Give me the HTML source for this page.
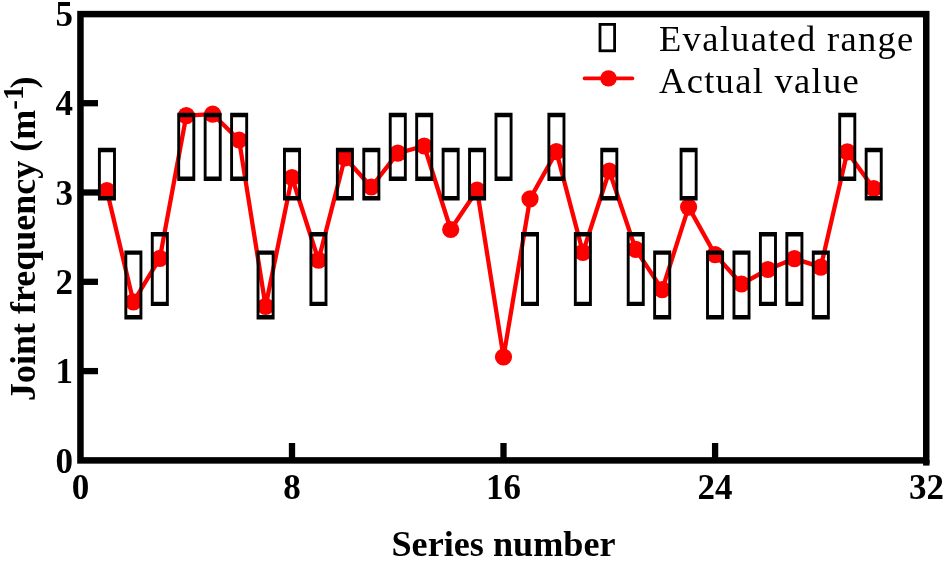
<!DOCTYPE html>
<html><head><meta charset="utf-8"><style>
html,body{margin:0;padding:0;background:#fff;}
svg{display:block;filter:blur(0.5px);}
text{font-family:"Liberation Serif",serif;}
</style></head><body>
<svg width="944" height="561" viewBox="0 0 944 561">
<rect width="944" height="561" fill="#fff"/>
<polyline points="106.9,190.7 133.4,301.8 159.8,258.4 186.3,115.7 212.7,114.2 239.1,140.0 265.6,306.3 292.0,177.5 318.5,260.2 344.9,157.8 371.3,187.0 397.8,153.1 424.2,146.0 450.7,229.5 477.1,190.2 503.5,357.0 530.0,198.9 556.4,151.7 582.9,252.4 609.3,171.0 635.7,249.4 662.2,289.6 688.6,207.1 715.1,254.6 741.5,284.0 767.9,269.5 794.4,258.6 820.8,267.1 847.3,151.9 873.7,188.5" fill="none" stroke="#f00" stroke-width="4.3" stroke-linejoin="round"/>
<g fill="#f00">
<circle cx="106.9" cy="190.7" r="8.6"/>
<circle cx="133.4" cy="301.8" r="8.6"/>
<circle cx="159.8" cy="258.4" r="8.6"/>
<circle cx="186.3" cy="115.7" r="8.6"/>
<circle cx="212.7" cy="114.2" r="8.6"/>
<circle cx="239.1" cy="140.0" r="8.6"/>
<circle cx="265.6" cy="306.3" r="8.6"/>
<circle cx="292.0" cy="177.5" r="8.6"/>
<circle cx="318.5" cy="260.2" r="8.6"/>
<circle cx="344.9" cy="157.8" r="8.6"/>
<circle cx="371.3" cy="187.0" r="8.6"/>
<circle cx="397.8" cy="153.1" r="8.6"/>
<circle cx="424.2" cy="146.0" r="8.6"/>
<circle cx="450.7" cy="229.5" r="8.6"/>
<circle cx="477.1" cy="190.2" r="8.6"/>
<circle cx="503.5" cy="357.0" r="8.6"/>
<circle cx="530.0" cy="198.9" r="8.6"/>
<circle cx="556.4" cy="151.7" r="8.6"/>
<circle cx="582.9" cy="252.4" r="8.6"/>
<circle cx="609.3" cy="171.0" r="8.6"/>
<circle cx="635.7" cy="249.4" r="8.6"/>
<circle cx="662.2" cy="289.6" r="8.6"/>
<circle cx="688.6" cy="207.1" r="8.6"/>
<circle cx="715.1" cy="254.6" r="8.6"/>
<circle cx="741.5" cy="284.0" r="8.6"/>
<circle cx="767.9" cy="269.5" r="8.6"/>
<circle cx="794.4" cy="258.6" r="8.6"/>
<circle cx="820.8" cy="267.1" r="8.6"/>
<circle cx="847.3" cy="151.9" r="8.6"/>
<circle cx="873.7" cy="188.5" r="8.6"/>
</g>
<g fill="#000" fill-rule="evenodd">
<path d="M97.94 147.80H115.94V200.40H97.94Z M100.84 152.20V196.00H113.04V152.20Z"/>
<path d="M124.38 250.40H142.38V319.40H124.38Z M127.28 254.80V315.00H139.48V254.80Z"/>
<path d="M150.82 232.00H168.82V306.10H150.82Z M153.72 236.40V301.70H165.92V236.40Z"/>
<path d="M177.26 112.80H195.26V181.00H177.26Z M180.16 117.20V176.60H192.36V117.20Z"/>
<path d="M203.70 112.80H221.70V181.00H203.70Z M206.60 117.20V176.60H218.80V117.20Z"/>
<path d="M230.14 112.80H248.14V181.00H230.14Z M233.04 117.20V176.60H245.24V117.20Z"/>
<path d="M256.58 250.40H274.58V319.40H256.58Z M259.48 254.80V315.00H271.68V254.80Z"/>
<path d="M283.02 147.80H301.02V200.40H283.02Z M285.92 152.20V196.00H298.12V152.20Z"/>
<path d="M309.46 232.00H327.46V306.10H309.46Z M312.36 236.40V301.70H324.56V236.40Z"/>
<path d="M335.90 147.80H353.90V200.40H335.90Z M338.80 152.20V196.00H351.00V152.20Z"/>
<path d="M362.34 147.80H380.34V200.40H362.34Z M365.24 152.20V196.00H377.44V152.20Z"/>
<path d="M388.78 112.80H406.78V181.00H388.78Z M391.68 117.20V176.60H403.88V117.20Z"/>
<path d="M415.22 112.80H433.22V181.00H415.22Z M418.12 117.20V176.60H430.32V117.20Z"/>
<path d="M441.66 147.80H459.66V200.40H441.66Z M444.56 152.20V196.00H456.76V152.20Z"/>
<path d="M468.10 147.80H486.10V200.40H468.10Z M471.00 152.20V196.00H483.20V152.20Z"/>
<path d="M494.54 112.80H512.54V181.00H494.54Z M497.44 117.20V176.60H509.64V117.20Z"/>
<path d="M520.98 232.00H538.98V306.10H520.98Z M523.88 236.40V301.70H536.08V236.40Z"/>
<path d="M547.42 112.80H565.42V181.00H547.42Z M550.32 117.20V176.60H562.52V117.20Z"/>
<path d="M573.86 232.00H591.86V306.10H573.86Z M576.76 236.40V301.70H588.96V236.40Z"/>
<path d="M600.30 147.80H618.30V200.40H600.30Z M603.20 152.20V196.00H615.40V152.20Z"/>
<path d="M626.74 232.00H644.74V306.10H626.74Z M629.64 236.40V301.70H641.84V236.40Z"/>
<path d="M653.18 250.40H671.18V319.40H653.18Z M656.08 254.80V315.00H668.28V254.80Z"/>
<path d="M679.62 147.80H697.62V200.40H679.62Z M682.52 152.20V196.00H694.72V152.20Z"/>
<path d="M706.06 250.40H724.06V319.40H706.06Z M708.96 254.80V315.00H721.16V254.80Z"/>
<path d="M732.50 250.40H750.50V319.40H732.50Z M735.40 254.80V315.00H747.60V254.80Z"/>
<path d="M758.94 232.00H776.94V306.10H758.94Z M761.84 236.40V301.70H774.04V236.40Z"/>
<path d="M785.38 232.00H803.38V306.10H785.38Z M788.28 236.40V301.70H800.48V236.40Z"/>
<path d="M811.82 250.40H829.82V319.40H811.82Z M814.72 254.80V315.00H826.92V254.80Z"/>
<path d="M838.26 112.80H856.26V181.00H838.26Z M841.16 117.20V176.60H853.36V117.20Z"/>
<path d="M864.70 147.80H882.70V200.40H864.70Z M867.60 152.20V196.00H879.80V152.20Z"/>
</g>
<g stroke="#000" stroke-width="6.5" fill="none">
<rect x="80.45" y="14.1" width="845.8" height="446.3"/>
</g>
<rect x="923.1" y="460" width="6.4" height="5.6" fill="#000"/>
<g stroke="#000" stroke-width="6.3">
<line x1="292.0" y1="460.4" x2="292.0" y2="443" />
<line x1="503.5" y1="460.4" x2="503.5" y2="443" />
<line x1="715.1" y1="460.4" x2="715.1" y2="443" />
<line x1="80.45" y1="371.1" x2="98" y2="371.1" />
<line x1="80.45" y1="281.8" x2="98" y2="281.8" />
<line x1="80.45" y1="192.5" x2="98" y2="192.5" />
<line x1="80.45" y1="103.2" x2="98" y2="103.2" />
</g>
<g font-size="35" font-weight="bold" text-anchor="middle">
<text x="80.5" y="499">0</text>
<text x="292.0" y="499">8</text>
<text x="503.5" y="499">16</text>
<text x="715.1" y="499">24</text>
<text x="926.6" y="499">32</text>
</g>
<g font-size="35" font-weight="bold" text-anchor="end">
<text x="73" y="472.6">0</text>
<text x="73" y="383.3">1</text>
<text x="73" y="294.0">2</text>
<text x="73" y="204.7">3</text>
<text x="73" y="115.4">4</text>
<text x="73" y="26.1">5</text>
</g>
<text x="391.5" y="556.4" font-size="36" font-weight="bold" text-anchor="start" textLength="224" lengthAdjust="spacingAndGlyphs">Series number</text>
<g transform="translate(34.6,401) rotate(-90)" font-weight="bold">
<text x="0" y="0" font-size="36">Joint frequency (m</text>
<text x="291.3" y="-11.5" font-size="29">-1</text>
<text x="312.5" y="0" font-size="36">)</text>
</g>
<!-- legend -->
<rect x="600" y="24.4" width="14.6" height="26.4" fill="none" stroke="#000" stroke-width="2.8"/>
<line x1="584.5" y1="78.4" x2="632.5" y2="78.4" stroke="#f00" stroke-width="3.6" stroke-linecap="round"/>
<circle cx="608.5" cy="78.4" r="8.2" fill="#f00"/>
<text x="659" y="51" font-size="36.5" letter-spacing="1.3">Evaluated range</text>
<text x="659" y="93" font-size="36.5" letter-spacing="1.3">Actual value</text>
</svg>
</body></html>
